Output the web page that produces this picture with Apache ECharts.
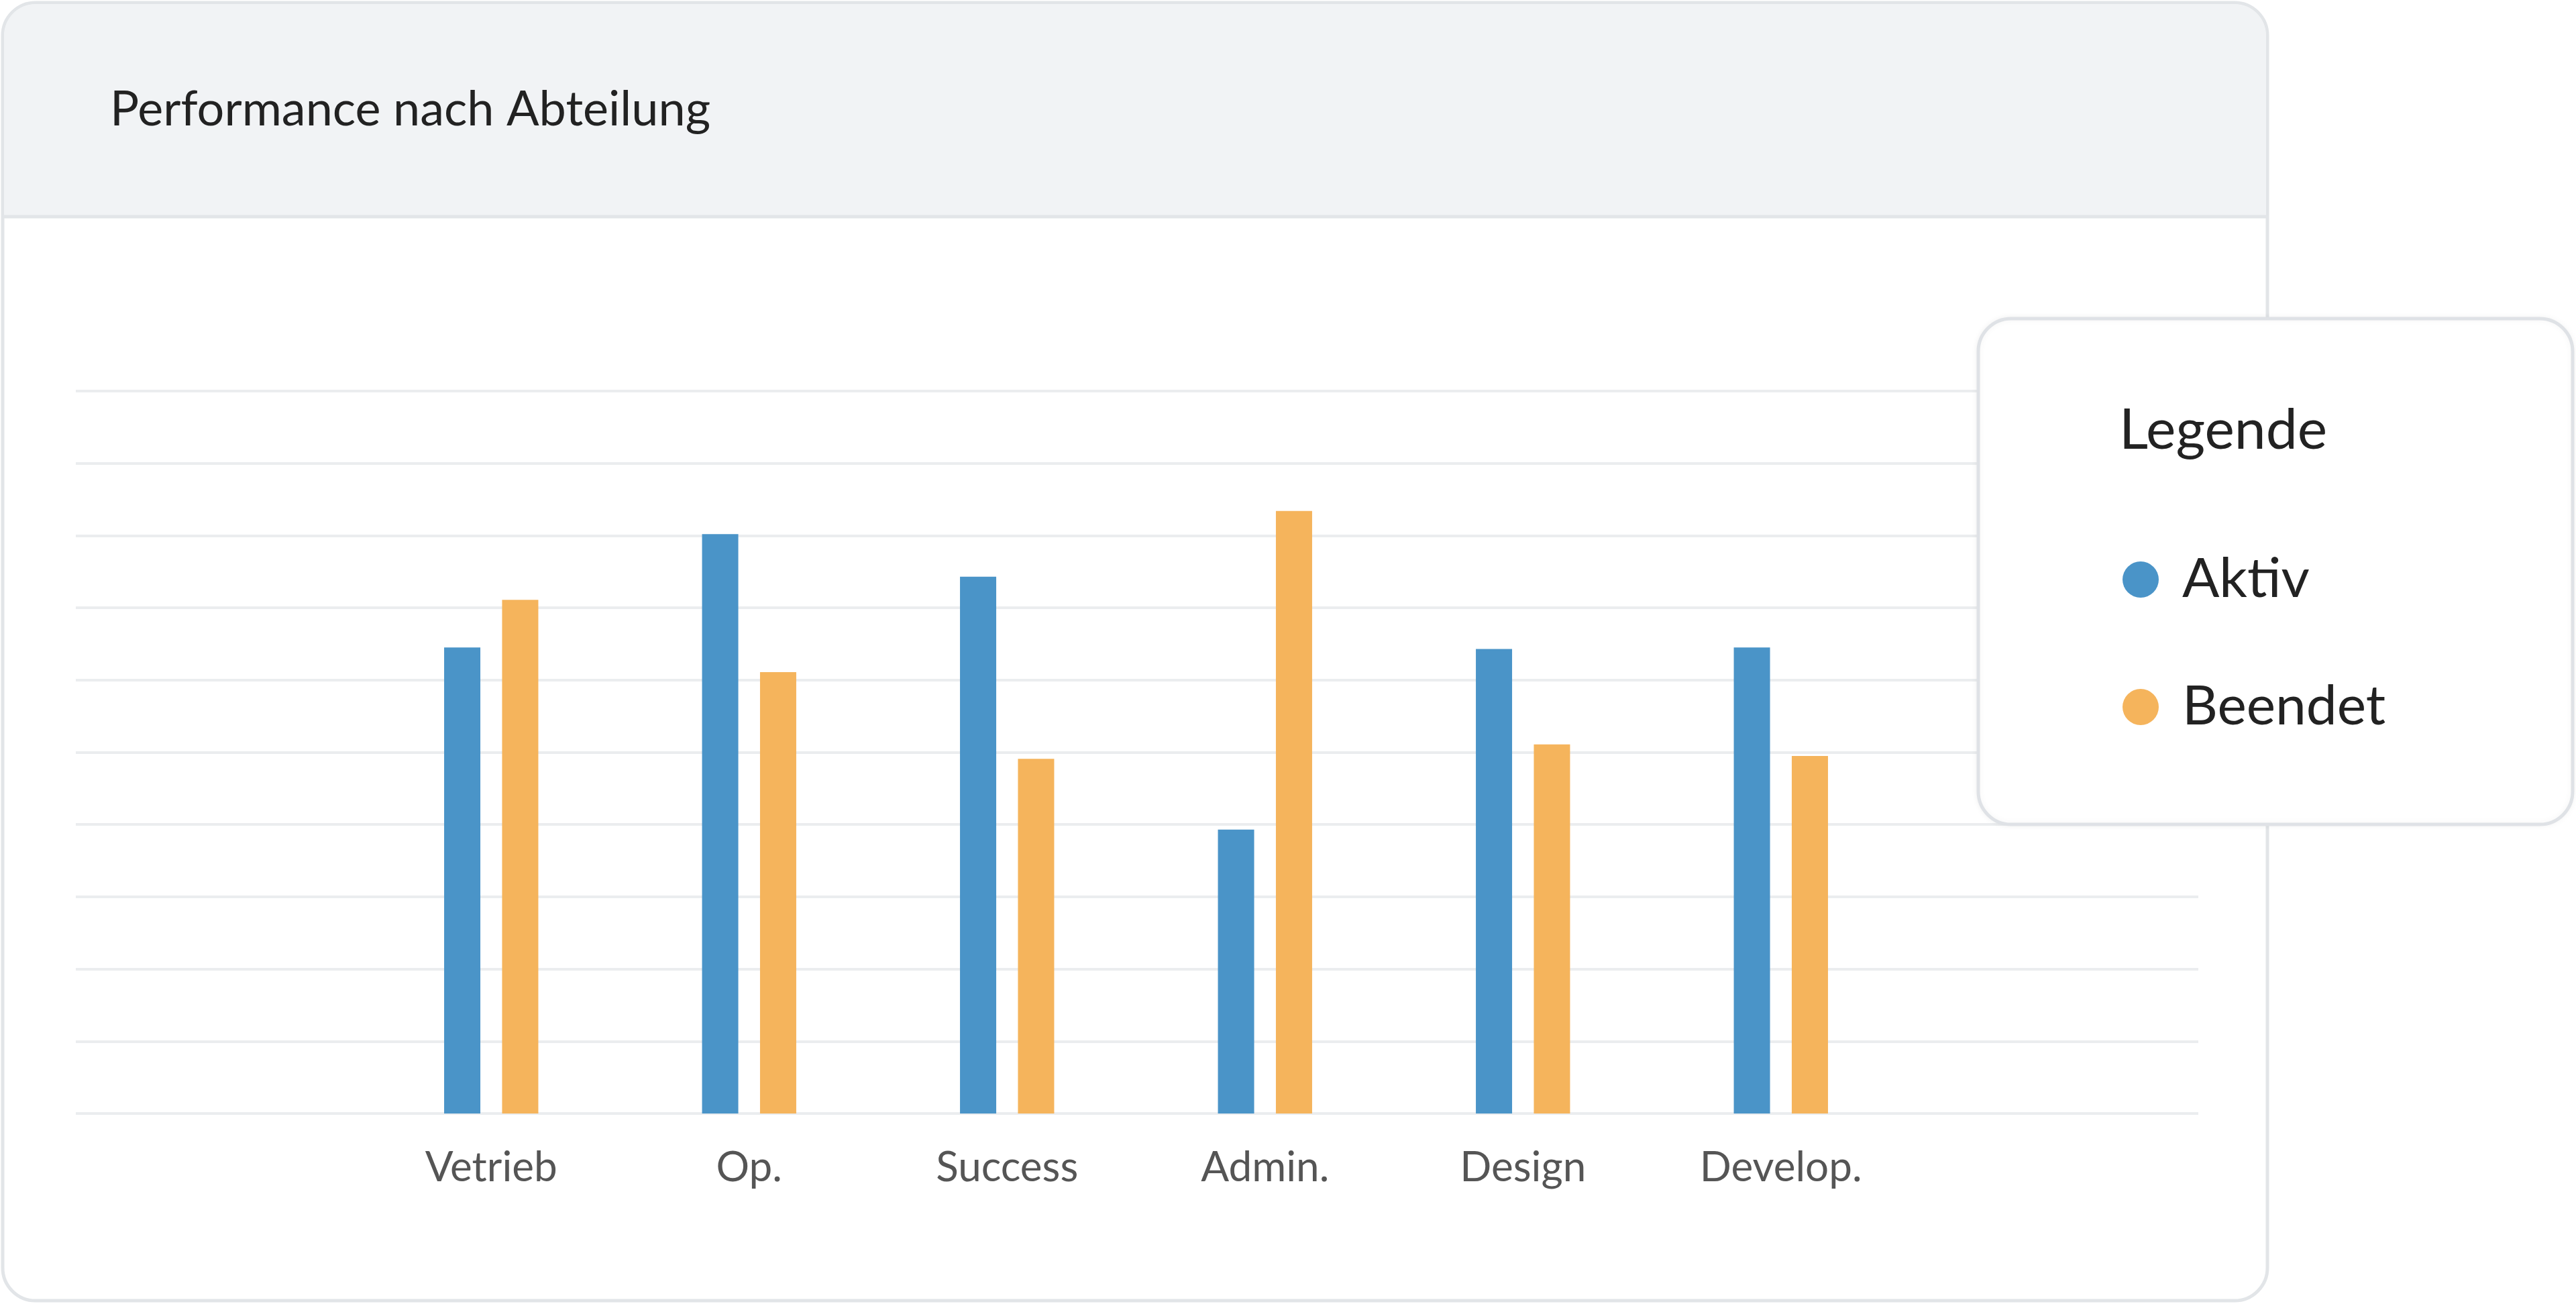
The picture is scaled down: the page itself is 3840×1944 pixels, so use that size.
<!DOCTYPE html>
<html><head><meta charset="utf-8">
<script src="https://cdn.jsdelivr.net/npm/echarts@6/dist/echarts.min.js"></script>
<style>html,body{margin:0;padding:0;background:#fff;}#c{width:3840px;height:1944px;}</style>
</head><body><div id="c"></div>
<script>
const categories = ['Vetrieb','Op.','Success','Admin.','Design','Develop.'];
const aktiv = [6.45, 8.02, 7.43, 3.93, 6.43, 6.45];
const beendet = [7.11, 6.11, 4.91, 8.34, 5.11, 4.95];
const title = 'Performance nach Abteilung';
const legendTitle = 'Legende';
const FF = 'Lato, "Open Sans", sans-serif';
const chart = echarts.init(document.getElementById('c'));
chart.setOption({
  animation:false,
  textStyle:{fontFamily:FF},
  graphic:[
    {type:'rect',z:0,shape:{x:4,y:4,width:3376,height:1935,r:49},style:{fill:'#fff',stroke:'#e2e5e8',lineWidth:5}},
    {type:'rect',z:1,shape:{x:6,y:6,width:3372,height:316,r:[47,47,0,0]},style:{fill:'#f1f3f5'}},
    {type:'line',z:1,shape:{x1:6,y1:323,x2:3378,y2:323},style:{stroke:'#e2e5e8',lineWidth:5}},
    {type:'text',z:2,x:164,y:164,style:{text:title,fontSize:72,fill:'#222',fontFamily:FF,verticalAlign:'middle'}},
    {type:'rect',z:10,shape:{x:2949,y:475,width:886,height:754,r:49},style:{fill:'#fff',stroke:'#dfe2e6',lineWidth:5,shadowBlur:10,shadowColor:'rgba(0,0,0,0.05)'}},
    {type:'text',z:11,x:3159,y:642,style:{text:legendTitle,fontSize:84,fill:'#222',fontFamily:FF,verticalAlign:'middle'}}
  ],
  legend:{z:12,orient:'vertical',left:3159,top:818,icon:'circle',itemWidth:54,itemHeight:54,itemGap:108,
    textStyle:{fontSize:82,color:'#222',lineHeight:54,padding:[0,0,0,30],fontFamily:FF},
    data:['Aktiv','Beendet']},
  grid:[
    {left:113,right:563,top:583,bottom:284},
    {left:540,width:2307,top:583,bottom:284}
  ],
  xAxis:[
    {gridIndex:0,type:'category',data:[''],show:false},
    {gridIndex:1,type:'category',data:categories,axisLine:{show:false},axisTick:{show:false},
     axisLabel:{fontSize:62,color:'#555',margin:50,fontFamily:FF}}
  ],
  yAxis:[
    {gridIndex:0,type:'value',min:0,max:10,interval:1,axisLabel:{show:false},axisLine:{show:false},axisTick:{show:false},
     splitLine:{lineStyle:{color:'#ebedef',width:4}}},
    {gridIndex:1,type:'value',min:0,max:10,interval:1,show:false,splitLine:{show:false}}
  ],
  series:[
    {name:'Aktiv',type:'bar',xAxisIndex:1,yAxisIndex:1,data:aktiv,barWidth:54,barGap:'60%',itemStyle:{color:'#4a94c8'}},
    {name:'Beendet',type:'bar',xAxisIndex:1,yAxisIndex:1,data:beendet,barWidth:54,barGap:'60%',itemStyle:{color:'#f5b45c'}}
  ]
});
</script></body></html>
